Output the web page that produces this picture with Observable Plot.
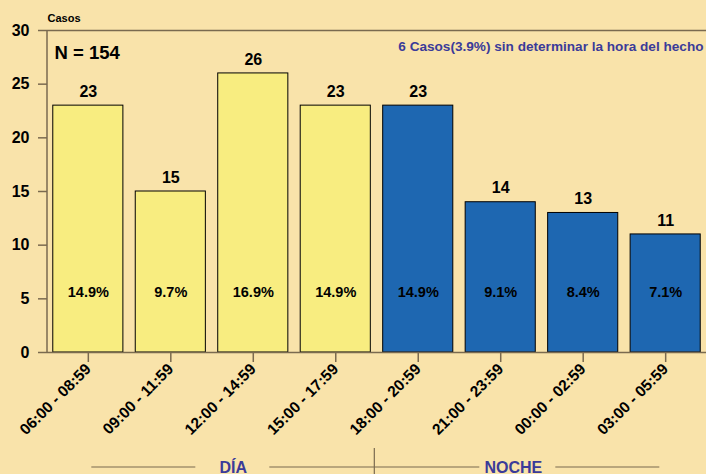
<!DOCTYPE html>
<html>
<head>
<meta charset="utf-8">
<script src="https://cdn.jsdelivr.net/npm/d3@7"></script>
<script src="https://cdn.jsdelivr.net/npm/@observablehq/plot@0.6"></script>
<style>
  html, body { margin: 0; padding: 0; background: #F9E3AA; }
  #chart svg { display: block; font-family: "Liberation Sans", Arial, sans-serif; }
</style>
</head>
<body>
<div id="chart"></div>
<script>
const categories = ["06:00 - 08:59", "09:00 - 11:59", "12:00 - 14:59", "15:00 - 17:59",
                    "18:00 - 20:59", "21:00 - 23:59", "00:00 - 02:59", "03:00 - 05:59"];
const values = [23, 15, 26, 23, 23, 14, 13, 11];
const percents = ["14.9%", "9.7%", "16.9%", "14.9%", "14.9%", "9.1%", "8.4%", "7.1%"];
const periods = ["DÍA", "DÍA", "DÍA", "DÍA", "NOCHE", "NOCHE", "NOCHE", "NOCHE"];
const yTicks = [0, 5, 10, 15, 20, 25, 30];
const totalLabel = "N = 154";
const noteLabel = "6 Casos(3.9%) sin determinar la hora del hecho";
const yLabel = "Casos";

const data = categories.map((c, i) => ({cat: c, value: values[i], pct: percents[i], period: periods[i]}));

const axisColor = "#7a6a4f";
const blueText = "#3b3b99";

const plot = Plot.plot({
  width: 706,
  height: 474,
  marginLeft: 47,
  marginRight: 0,
  marginTop: 30,
  marginBottom: 122,
  style: {background: "#F9E3AA", fontFamily: "Liberation Sans, Arial, sans-serif"},
  x: {domain: categories, paddingInner: 0.15, paddingOuter: 0.07, round: false},
  y: {domain: [0, 30]},
  color: {domain: ["DÍA", "NOCHE"], range: ["#F8ED80", "#1E67B1"]},
  marks: [
    Plot.barY(data, {x: "cat", y: "value", fill: "period", stroke: "#000", strokeWidth: 1}),
    Plot.ruleY([0, 30], {stroke: axisColor, strokeWidth: 1.5}),
    Plot.axisY({ticks: yTicks, tickSize: 9, tickPadding: 9, stroke: axisColor, strokeWidth: 1.5,
                fontSize: 16, fontWeight: "bold", fill: "#000", label: null}),
    Plot.axisX({tickSize: 10, tickPadding: 4, tickRotate: -45, stroke: axisColor, strokeWidth: 1.5,
                fontSize: 15.5, fontWeight: "bold", fill: "#000", label: null}),
    Plot.text(data, {x: "cat", y: "value", text: d => String(d.value), dy: -14,
                     fontSize: 16, fontWeight: "bold", fill: "#000"}),
    Plot.text(data, {x: "cat", y: () => 5.6, text: "pct", fontSize: 14.5, fontWeight: "bold", fill: "#000"}),
    Plot.text([yLabel], {frameAnchor: "top-left", text: d => d, dy: -12, lineAnchor: "middle",
                         textAnchor: "start", fontSize: 11, fontWeight: "bold", fill: "#000"}),
    Plot.text([totalLabel], {frameAnchor: "top-left", text: d => d, dx: 7, dy: 23, lineAnchor: "middle",
                             textAnchor: "start", fontSize: 18.5, fontWeight: "bold", fill: "#000"}),
    Plot.text([noteLabel], {frameAnchor: "top-right", text: d => d, dx: -3, dy: 16, lineAnchor: "middle",
                            textAnchor: "end", fontSize: 13.6, fontWeight: "bold", fill: blueText})
  ]
});

const svg = d3.select(plot);
const x = plot.scale("x");
const y = plot.scale("y");
const y0 = y.apply(0), y30 = y.apply(30);
const xLeft = 47;
// left axis line
svg.append("line").attr("x1", xLeft).attr("x2", xLeft).attr("y1", y30).attr("y2", y0)
  .attr("stroke", axisColor).attr("stroke-width", 1.5);

// period group annotation below the axis
const bw = x.bandwidth;
const endDay = x.apply(categories[3]) + bw;
const divider = endDay + 4;
const gy = 467;
const g = svg.append("g").attr("stroke", axisColor).attr("stroke-width", 1.2);
g.append("line").attr("x1", divider).attr("x2", divider).attr("y1", 448).attr("y2", 474);
const segs = [[divider - 283, divider - 179], [divider - 105, divider + 105], [divider + 181, divider + 285]];
segs.forEach(([a, b]) => g.append("line").attr("x1", a).attr("x2", b).attr("y1", gy).attr("y2", gy));
svg.append("text").attr("x", divider - 141).attr("y", 473)
  .attr("text-anchor", "middle").attr("font-size", 16).attr("font-weight", "bold")
  .attr("fill", blueText).text(periods[0]);
svg.append("text").attr("x", divider + 139).attr("y", 473)
  .attr("text-anchor", "middle").attr("font-size", 16).attr("font-weight", "bold")
  .attr("fill", blueText).text(periods[4]);

document.getElementById("chart").appendChild(plot);
</script>
</body>
</html>
